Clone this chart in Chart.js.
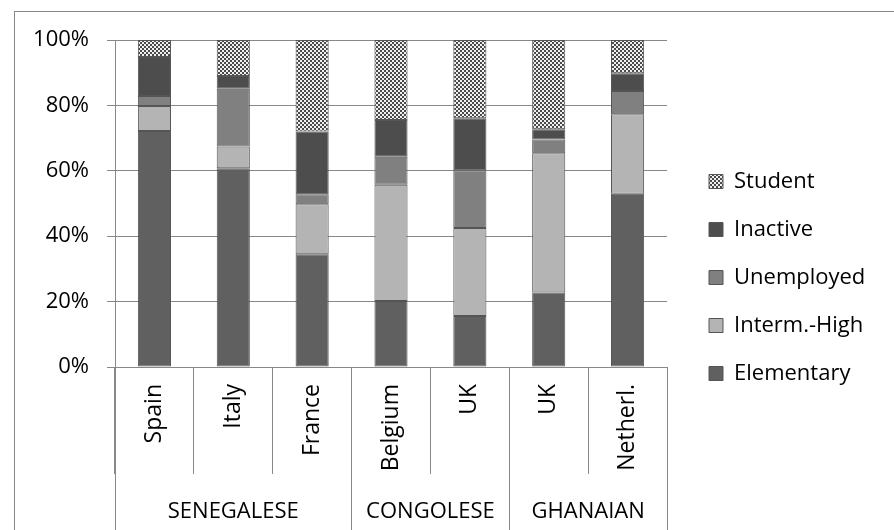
<!DOCTYPE html>
<html>
<head>
<meta charset="utf-8">
<script src="https://cdn.jsdelivr.net/npm/chart.js@4"></script>
<style>
  html, body { margin: 0; padding: 0; background: #fff; }
</style>
</head>
<body>
<canvas id="chart" width="894" height="530"></canvas>
<script>
const countries = ['Spain', 'Italy', 'France', 'Belgium', 'UK', 'UK', 'Netherl.']
const groups = ['SENEGALESE', 'CONGOLESE', 'GHANAIAN']
const groupSizes = [3, 2, 2]

// shares in %, each column sums to 100
const elementary = [72.2, 60.8, 34.5, 20.2, 15.6, 22.8, 53.0]
const intermHigh = [7.6, 6.6, 15.3, 35.5, 26.9, 42.6, 24.3]
const unemployed = [3.1, 17.7, 3.0, 8.6, 17.7, 4.2, 7.1]
const inactive = [11.9, 3.9, 19.2, 11.2, 15.9, 3.1, 5.4]
const student = [5.2, 11.0, 28.0, 24.5, 23.9, 27.3, 10.2]

const lineGrey = '#888888'
const fontFamily = "'Open Sans', sans-serif"

Chart.defaults.font.family = fontFamily
Chart.defaults.font.size = 22
Chart.defaults.color = '#000'

const canvas = document.getElementById('chart')
const ctx = canvas.getContext('2d')

// small checker tile for the Student series
const tile = document.createElement('canvas')
tile.width = 4
tile.height = 4
const t = tile.getContext('2d')
t.fillStyle = '#4a4a4a'
t.fillRect(0, 0, 4, 4)
t.fillStyle = '#f0f0f0'
t.fillRect(0, 0, 2, 2)
t.fillRect(2, 2, 2, 2)
const studentFill = ctx.createPattern(tile, 'repeat')

const bar = (label, data, color) => ({
  label: label,
  data: data,
  backgroundColor: color,
  borderColor: '#555555',
  borderWidth: 1,
  borderSkipped: false,
  barPercentage: 0.42,
  categoryPercentage: 1
})

const align = (px) => Math.round(px - 0.5) + 0.5

// outer frame, group row below the country labels
const frameAndGroups = {
  id: 'frameAndGroups',
  beforeDraw(chart) {
    const c = chart.ctx
    c.save()
    c.strokeStyle = lineGrey
    c.lineWidth = 1
    c.strokeRect(14.5, 11.5, chart.width, chart.height)
    c.restore()
  },
  afterDraw(chart) {
    const c = chart.ctx
    const x = chart.scales.x
    const edges = [0]
    groupSizes.forEach((n) => edges.push(edges[edges.length - 1] + n))

    c.save()
    c.strokeStyle = lineGrey
    c.lineWidth = 1
    edges.forEach((e) => {
      const px = align(x.getPixelForValue(e - 0.5))
      c.beginPath()
      c.moveTo(px, chart.chartArea.bottom)
      c.lineTo(px, chart.height)
      c.stroke()
    })
    c.fillStyle = '#000'
    c.font = '22px ' + fontFamily
    c.textAlign = 'center'
    c.textBaseline = 'alphabetic'
    groups.forEach((g, i) => {
      const mid = (edges[i] + edges[i + 1]) / 2 - 0.5
      c.fillText(g, x.getPixelForValue(mid), chart.height - 12)
    })
    c.restore()
  }
}

new Chart(canvas, {
  type: 'bar',
  data: {
    labels: countries,
    datasets: [
      bar('Elementary', elementary, '#606060'),
      bar('Interm.-High', intermHigh, '#b4b4b4'),
      bar('Unemployed', unemployed, '#808080'),
      bar('Inactive', inactive, '#4d4d4d'),
      bar('Student', student, studentFill)
    ]
  },
  options: {
    responsive: false,
    animation: false,
    layout: { padding: { top: 25, right: 23, left: 0, bottom: 0 } },
    scales: {
      x: {
        stacked: true,
        grid: { drawOnChartArea: false, offset: true, tickLength: 107, color: lineGrey },
        border: { color: lineGrey },
        ticks: { minRotation: 90, maxRotation: 90, autoSkip: false, padding: -90, font: { size: 23 } },
        afterFit(s) { s.height = 163 }
      },
      y: {
        stacked: true,
        min: 0,
        max: 100,
        ticks: { stepSize: 20, padding: 18, callback: (v) => v + '%' },
        grid: { color: lineGrey, tickLength: 8 },
        border: { color: lineGrey },
        afterFit(s) { s.width = 115 }
      },
      xTop: {
        type: 'linear',
        position: 'top',
        grid: { display: false },
        border: { display: false },
        ticks: { display: false },
        afterFit(s) { s.height = 15 }
      },
      yRight: {
        type: 'linear',
        position: 'right',
        grid: { display: false },
        border: { display: false },
        ticks: { display: false },
        afterFit(s) { s.width = 16 }
      }
    },
    plugins: {
      tooltip: { enabled: false },
      legend: {
        position: 'right',
        reverse: true,
        maxWidth: 188,
        labels: { boxWidth: 14, boxHeight: 14, padding: 26, font: { size: 22 } }
      }
    }
  },
  plugins: [frameAndGroups]
})
</script>
</body>
</html>
